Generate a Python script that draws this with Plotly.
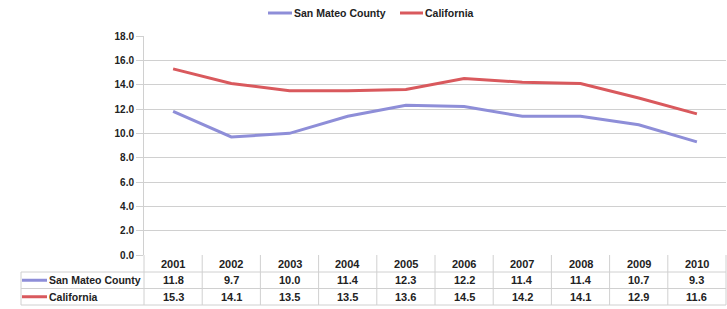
import plotly.graph_objects as go

years = ["2001", "2002", "2003", "2004", "2005", "2006", "2007", "2008", "2009", "2010"]
series_names = ["San Mateo County", "California"]
san_mateo = [11.8, 9.7, 10.0, 11.4, 12.3, 12.2, 11.4, 11.4, 10.7, 9.3]
california = [15.3, 14.1, 13.5, 13.5, 13.6, 14.5, 14.2, 14.1, 12.9, 11.6]
series_values = [san_mateo, california]
colors = ["#8e8ed8", "#d9595d"]

W, H = 727, 309
ML, MR, MT, MB = 144, 1, 36, 54
PW = W - ML - MR
PH = H - MT - MB
FONT = "Liberation Sans, Arial, sans-serif"
GRID = "#d0d0d0"


def px(x):
    return (x - ML) / PW


def py(y):
    return (H - MB - y) / PH


fig = go.Figure()
xs = list(range(len(years)))
for name, vals, col in zip(series_names, series_values, colors):
    fig.add_trace(go.Scatter(x=xs, y=vals, mode="lines", name=name,
                             line=dict(color=col, width=3), showlegend=False))

shapes = []
annotations = []
n = len(years)
colw = PW / n
y_axis = H - MB
row_edges = [y_axis, 272, 288.5, 305]
left_edge = 21

# horizontal table lines
for yy in row_edges[1:]:
    shapes.append(dict(type="line", xref="paper", yref="paper",
                       x0=px(left_edge), x1=px(W - MR), y0=py(yy), y1=py(yy),
                       line=dict(color=GRID, width=1)))
# vertical lines
shapes.append(dict(type="line", xref="paper", yref="paper",
                   x0=px(left_edge), x1=px(left_edge), y0=py(272), y1=py(305),
                   line=dict(color=GRID, width=1)))
for k in range(n + 1):
    xx = ML + k * colw
    shapes.append(dict(type="line", xref="paper", yref="paper",
                       x0=px(xx), x1=px(xx), y0=py(y_axis), y1=py(305),
                       line=dict(color=GRID, width=1)))

# table text
for k, yr in enumerate(years):
    cx = px(ML + (k + 0.5) * colw)
    annotations.append(dict(x=cx, y=py((row_edges[0] + row_edges[1]) / 2), xref="paper", yref="paper",
                            text=yr, showarrow=False, xanchor="center", yanchor="middle",
                            font=dict(family=FONT, size=11, color="#222", weight="bold")))
    for r, vals in enumerate(series_values):
        annotations.append(dict(x=cx, y=py((row_edges[r + 1] + row_edges[r + 2]) / 2), xref="paper", yref="paper",
                                text=f"{vals[k]:.1f}", showarrow=False, xanchor="center", yanchor="middle",
                                font=dict(family=FONT, size=11, color="#222", weight="bold")))

for r, (name, col) in enumerate(zip(series_names, colors)):
    yc = (row_edges[r + 1] + row_edges[r + 2]) / 2
    shapes.append(dict(type="line", xref="paper", yref="paper",
                       x0=px(22), x1=px(47), y0=py(yc), y1=py(yc),
                       line=dict(color=col, width=3)))
    annotations.append(dict(x=px(47), y=py(yc), xref="paper", yref="paper",
                            text=name, showarrow=False, xanchor="left", yanchor="middle",
                            font=dict(family=FONT, size=10.5, color="#222", weight="bold")))

# legend
leg = [(268, 292), (400, 423)]
for (x0, x1), name, col in zip(leg, series_names, colors):
    shapes.append(dict(type="line", xref="paper", yref="paper",
                       x0=px(x0), x1=px(x1), y0=py(13), y1=py(13),
                       line=dict(color=col, width=3)))
    annotations.append(dict(x=px(x1), y=py(13), xref="paper", yref="paper",
                            text=name, showarrow=False, xanchor="left", yanchor="middle",
                            font=dict(family=FONT, size=10.5, color="#222", weight="bold")))

fig.update_layout(
    width=W, height=H,
    margin=dict(l=ML, r=MR, t=MT, b=MB, pad=0),
    paper_bgcolor="white", plot_bgcolor="white",
    shapes=shapes, annotations=annotations,
    xaxis=dict(range=[-0.5, n - 0.5], showticklabels=False, showgrid=False,
               zeroline=False, showline=False, ticks=""),
    yaxis=dict(range=[0, 18], dtick=2, tickformat=".1f", showgrid=True, gridcolor=GRID,
               gridwidth=1, zeroline=False, showline=True, linecolor=GRID, linewidth=1,
               ticks="outside", ticklen=7, tickcolor=GRID,
               tickfont=dict(family=FONT, size=10, color="#222", weight="bold")),
)

fig.write_html("out.html", config={"displayModeBar": False},
               post_script="document.body.style.margin='0';document.body.style.overflow='hidden';")
